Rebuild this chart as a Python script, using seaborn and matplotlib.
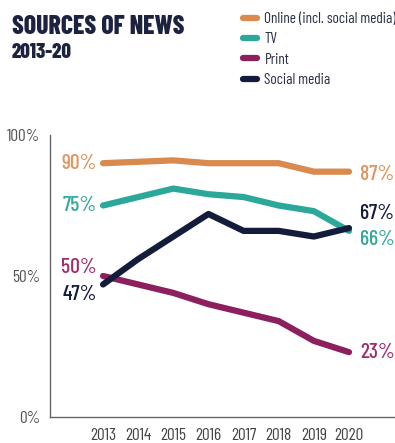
import matplotlib
matplotlib.use("Agg")
import matplotlib.pyplot as plt
import seaborn as sns
import pandas as pd
from matplotlib.lines import Line2D

years = [2013, 2014, 2015, 2016, 2017, 2018, 2019, 2020]
online = [90, 90.5, 91, 90, 90, 90, 87, 87]
tv = [75, 78, 81, 79, 78, 75, 73, 66]
printed = [50, 47, 44, 40, 37, 34, 27, 23]
social = [47, 56, 64, 72, 66, 66, 64, 67]
series_names = ["Online (incl. social media)", "TV", "Print", "Social media"]
ytick_vals = [0, 50, 100]
ytick_labels = ["0%", "50%", "100%"]

line_colors = ["#d98a4e", "#2ba89a", "#8c1f5e", "#131c3a"]
label_colors = ["#e0955e", "#35a89c", "#a02e6e", "#131c3a"]

sns.set_style("white")
FAM = ["Barlow Condensed", "DejaVu Sans"]
plt.rcParams["font.family"] = FAM

df = pd.DataFrame({
    "year": years * 4,
    "value": online + tv + printed + social,
    "series": sum([[n] * len(years) for n in series_names], []),
})

fig = plt.figure(figsize=(3.95, 4.43), dpi=100)
ax = fig.add_axes([50 / 395, 26 / 443, 345 / 395, 282 / 443])
sns.lineplot(data=df, x="year", y="value", hue="series", palette=line_colors,
             hue_order=series_names, linewidth=4.5, ax=ax, legend=False,
             solid_capstyle="round", solid_joinstyle="round")

ax.set_xlim(2011.49, 2021.31)
ax.set_ylim(0, 100)
ax.set_xlabel("")
ax.set_ylabel("")
ax.set_xticks(years)
ax.set_xticklabels([str(y) for y in years], fontsize=12.5, color="#444444")
ax.set_yticks(ytick_vals)
ax.set_yticklabels(ytick_labels, fontsize=12.5, color="#555555")
ax.tick_params(axis="x", direction="in", length=6, color="#666666", width=1, pad=8)
ax.tick_params(axis="y", direction="out", length=5, color="#666666", width=1, pad=2)
for s in ["top", "right"]:
    ax.spines[s].set_visible(False)
for s in ["left", "bottom"]:
    ax.spines[s].set_color("#666666")
    ax.spines[s].set_linewidth(1)

all_vals = [online, tv, printed, social]
lfs = 15.5
# left labels
left_offsets = [0, 0, 3, -3.5]
for vals, c, off in zip(all_vals, label_colors, left_offsets):
    ax.annotate(f"{vals[0]:.0f}%", xy=(years[0], vals[0] + off), xytext=(-6, 0),
                textcoords="offset pixels", ha="right", va="center",
                fontsize=lfs, color=c, fontweight="medium")
# right labels
right_offsets = [-1, -3, 0, 5]
for vals, c, off in zip(all_vals, label_colors, right_offsets):
    ax.annotate(f"{vals[-1]:.0f}%", xy=(years[-1], vals[-1] + off), xytext=(11, 0),
                textcoords="offset pixels", ha="left", va="center",
                fontsize=lfs, color=c, fontweight="medium")

fig.text(12 / 395, 1 - 27 / 443, "SOURCES OF NEWS", fontsize=18.5, fontweight="heavy",
         color="#1c2340", va="center", ha="left")
fig.text(12 / 395, 1 - 53 / 443, "2013-20", fontsize=15, fontweight="heavy",
         color="#1c2340", va="center", ha="left")

handles = [Line2D([0], [0], color=c, lw=4.5) for c in line_colors]
fig.legend(handles, series_names, loc="upper left", bbox_to_anchor=(243 / 395, 1 - 12 / 443),
           frameon=False, fontsize=11, handlelength=0.9, handletextpad=0.5,
           labelspacing=0.42, borderpad=0, borderaxespad=0,
           labelcolor="#2a2f45")

fig.savefig("out.png", dpi=100, facecolor="white")
